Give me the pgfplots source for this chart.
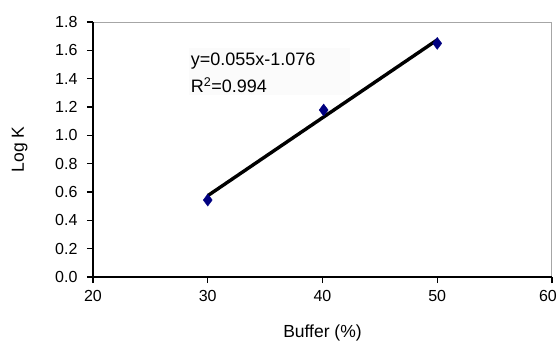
\documentclass[border=0pt]{standalone}
\usepackage{fontspec}
\setmainfont{Liberation Sans}
\usepackage{pgfplots}
\pgfplotsset{compat=1.18}
\definecolor{navy}{RGB}{0,0,128}
\begin{document}
\begin{tikzpicture}
\path[use as bounding box] (-93pt,-66pt) rectangle (465pt,277pt);
\begin{axis}[
  at={(0,0)}, anchor=south west,
  scale only axis, width=459pt, height=255pt,
  xmin=20, xmax=60, ymin=0, ymax=1.8,
  xtick={20,30,...,60},
  xticklabels={20,30,40,50,\hspace*{-8pt}60},
  ytick={0,0.2,...,1.8},
  xtick pos=bottom, ytick pos=left, tick align=outside,
  major tick length=6pt,
  every tick/.style={draw=black, line width=1.2pt},
  axis line style={gray!70, line width=1pt},
  /pgf/number format/assume math mode=true,
  yticklabel style={xshift=-6pt, /pgf/number format/.cd, fixed, fixed zerofill, precision=1},
  xticklabel style={yshift=-4pt},
  ticklabel style={font=\fontsize{16}{18}\selectfont},
  label style={font=\fontsize{17.5}{20}\selectfont},
  xlabel={Buffer (\%)}, ylabel={Log K},
  ylabel style={at={(axis description cs:-0.160,0.5)}, anchor=center},
  xlabel style={at={(axis description cs:0.5,-0.22)}, anchor=center},
  clip=false,
]
\draw[black, line width=1.2pt] (rel axis cs:0,1) -- (rel axis cs:0,0) -- (rel axis cs:1,0);
\node[fill=gray!3, inner sep=0pt, minimum width=161pt, minimum height=47pt, anchor=north west] at (axis cs:28.37,1.617) {};
\addplot[black, line width=3.4pt] coordinates {(30,0.574) (50,1.674)};
\addplot[only marks, mark=diamond*, mark size=6pt, navy, mark options={fill=navy, draw=navy}] coordinates {
(30,0.543) (40.1,1.179) (50,1.649)};
\node[anchor=base west, inner sep=0pt, font=\fontsize{18}{20}\selectfont] at (axis cs:28.51,1.496) {y=0.055x-1.076};
\node[anchor=base west, inner sep=0pt, font=\fontsize{18}{20}\selectfont] at (axis cs:28.51,1.301) {R\textsuperscript{2}=0.994};
\end{axis}
\end{tikzpicture}
\end{document}
